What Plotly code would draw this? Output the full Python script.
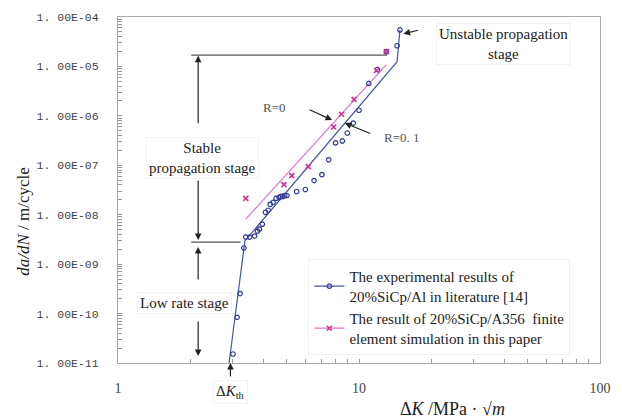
import plotly.graph_objects as go

# ---------------- data ----------------
# Experimental results of 20%SiCp/Al (literature [14])
exp_dk = [3.00, 3.12, 3.21, 3.33, 3.39, 3.52, 3.69, 3.79, 3.86, 3.97, 4.09, 4.20, 4.28, 4.40,
          4.53, 4.66, 4.74, 4.83, 4.92, 5.02, 5.51, 5.99, 6.51, 7.02, 7.49, 7.99, 8.53, 8.94,
          9.46, 10.0, 10.98, 11.94, 12.99, 14.39, 14.79]
exp_dadn = [1.52e-11, 8.4e-11, 2.54e-10, 2.12e-9, 3.53e-9, 3.53e-9, 3.70e-9, 4.66e-9, 5.11e-9,
            6.43e-9, 1.12e-8, 1.23e-8, 1.62e-8, 1.78e-8, 2.14e-8, 2.24e-8, 2.34e-8, 2.34e-8,
            2.45e-8, 2.45e-8, 2.95e-8, 3.24e-8, 4.91e-8, 6.47e-8, 1.29e-7, 2.84e-7, 3.11e-7,
            4.50e-7, 7.14e-7, 1.30e-6, 4.53e-6, 8.65e-6, 1.99e-5, 2.62e-5, 5.48e-5]
# Fitted line for the experimental results (R=0.1)
exp_fit_dk = [2.89, 3.36, 14.39, 14.79]
exp_fit_dadn = [1.0e-11, 2.93e-9, 1.25e-5, 5.48e-5]

# Finite element simulation results of 20%SiCp/A356 (R=0)
sim_dk = [3.39, 4.88, 5.26, 6.16, 7.85, 8.46, 9.54, 11.83, 12.99]
sim_dadn = [2.14e-8, 4.07e-8, 6.18e-8, 9.37e-8, 5.94e-7, 1.08e-6, 2.16e-6, 8.26e-6, 1.99e-5]
sim_fit_dk = [3.39, 12.99]
sim_fit_dadn = [8.11e-9, 1.09e-5]

x_decades = [1, 10, 100]
y_exponents = [-11, -10, -9, -8, -7, -6, -5, -4]

# ---------------- styles ----------------
BLUE = "#2e3a94"
BLUE_LINE = "#4455a8"
PINK = "#cc3399"
PINK_LINE = "#e472cc"
SERIF = "Liberation Serif"

fig = go.Figure()

fig.add_trace(go.Scatter(x=exp_fit_dk, y=exp_fit_dadn, mode="lines",
                         line=dict(color=BLUE_LINE, width=1.2), showlegend=False, hoverinfo="skip"))
fig.add_trace(go.Scatter(x=sim_fit_dk, y=sim_fit_dadn, mode="lines",
                         line=dict(color=PINK_LINE, width=1.2), showlegend=False, hoverinfo="skip"))
fig.add_trace(go.Scatter(x=exp_dk, y=exp_dadn, mode="markers",
                         marker=dict(symbol="circle-open", size=4.5, color=BLUE, line=dict(width=1.2)),
                         showlegend=False))
fig.add_trace(go.Scatter(x=sim_dk, y=sim_dadn, mode="markers",
                         marker=dict(symbol="x-thin", size=5, color=PINK, line=dict(width=1.6, color=PINK)),
                         showlegend=False))
# legend entries
fig.add_trace(go.Scatter(x=[None], y=[None], mode="lines+markers",
                         name="The experimental results of<br>20%SiCp/Al in literature [14]",
                         line=dict(color=BLUE_LINE, width=1.2),
                         marker=dict(symbol="circle-open", size=4.5, color=BLUE, line=dict(width=1.2))))
fig.add_trace(go.Scatter(x=[None], y=[None], mode="lines+markers",
                         name="The result of 20%SiCp/A356  finite<br>element simulation in this paper",
                         line=dict(color=PINK_LINE, width=1.2),
                         marker=dict(symbol="x-thin", size=5, color=PINK, line=dict(width=1.6, color=PINK))))

# ticks (all 1..9 per decade, labels only on decades)
xt, xl = [], []
for d in x_decades[:-1]:
    for m in range(1, 10):
        xt.append(d * m)
        xl.append(str(d) if m == 1 else "")
xt.append(x_decades[-1]); xl.append(str(x_decades[-1]))
yt, yl = [], []
for e in y_exponents:
    for m in range(1, 10):
        if e == y_exponents[-1] and m > 1:
            break
        yt.append(m * 10.0 ** e)
        yl.append("1. 00E-%02d" % (-e) if m == 1 else "")

fig.update_xaxes(type="log", range=[0, 2], tickmode="array", tickvals=xt, ticktext=xl,
                 ticks="inside", ticklen=4, tickcolor="#999", showgrid=False, zeroline=False,
                 showline=True, linecolor="#aaa", linewidth=1, mirror=True,
                 tickfont=dict(family=SERIF, size=14, color="#444"), ticklabelstandoff=12)
fig.update_yaxes(type="log", range=[-11, -4], tickmode="array", tickvals=yt, ticktext=yl,
                 ticks="inside", ticklen=4, tickcolor="#999", showgrid=False, zeroline=False,
                 showline=True, linecolor="#aaa", linewidth=1, mirror=True,
                 tickfont=dict(family="Liberation Mono", size=11.5, color="#444"), ticklabelstandoff=16)

ann = []
def arrow(x, y, ax, ay, head=2):
    ann.append(dict(xref="paper", yref="paper", x=x, y=y, ax=ax, ay=ay, text="", showarrow=True,
                    arrowhead=head, arrowsize=1.1, arrowwidth=1.2, arrowcolor="#222"))
def text(x, y, t, size=15, color="#222", box=False, angle=0):
    d = dict(xref="paper", yref="paper", x=x, y=y, text=t, showarrow=False, textangle=angle,
             font=dict(family=SERIF, size=size, color=color), xanchor="center", yanchor="middle")
    if box:
        d.update(bgcolor="white", bordercolor="#f3f3f3", borderwidth=1, borderpad=2)
    ann.append(d)

# stage arrows
arrow(0.1663, 0.8883, 0, 69)
arrow(0.1663, 0.3553, 0, -61)
arrow(0.1663, 0.3352, 0, 34)
arrow(0.1663, 0.0201, 0, -36)
# R arrows
arrow(0.4442, 0.7020, -24, -11)
arrow(0.4706, 0.6934, 27, 11)
# unstable arrow
arrow(0.5923, 0.9513, 16, -4)
# threshold arrow
arrow(0.2333, 0.0, 0, 15)

text(0.1744, 0.5931, "Stable<br>propagation stage", box=True)
text(0.1379, 0.1748, "Low rate stage", box=True)
text(0.3245, 0.7393, "R=0", size=13, color="#555")
text(0.5882, 0.6504, "R=0. 1", size=13, color="#555")
text(0.7992, 0.9226, "Unstable propagation<br>stage", box=True)
text(0.2333, -0.0831, "Δ<i>K</i><sub>th</sub>", size=15, box=True)
text(0.6937, -0.1318, "Δ<i>K</i> /MPa · √<i>m</i>", size=18)
text(-0.1960, 0.4097, "<i>da/dN</i> / m/cycle", size=17, angle=-90)

shapes = [
    dict(type="line", xref="paper", yref="paper", x0=0.152, x1=0.558, y0=0.8897, y1=0.8897,
         line=dict(color="#555", width=1.2)),
    dict(type="line", xref="paper", yref="paper", x0=0.152, x1=0.254, y0=0.3496, y1=0.3496,
         line=dict(color="#555", width=1.2)),
]

fig.update_layout(
    width=622, height=419,
    margin=dict(l=118, r=11, t=14, b=56),
    plot_bgcolor="white", paper_bgcolor="white",
    annotations=ann, shapes=shapes,
    legend=dict(x=0.395, y=0.30, xanchor="left", yanchor="top",
                bgcolor="white", bordercolor="#f0f0f0", borderwidth=1,
                font=dict(family=SERIF, size=15, color="#222"), tracegroupgap=4),
)

fig.write_html("out.html")
